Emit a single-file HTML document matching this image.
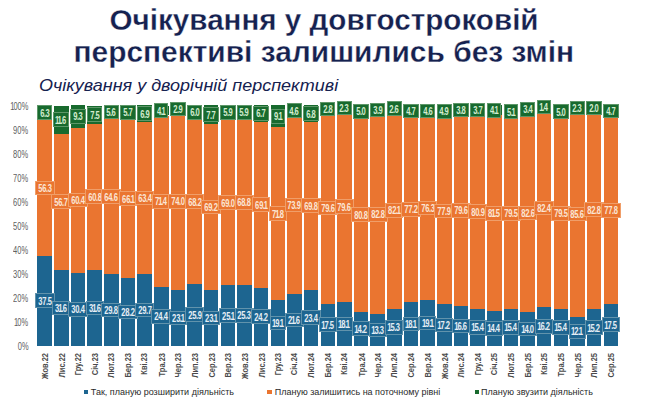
<!DOCTYPE html>
<html><head><meta charset="utf-8"><style>
html,body{margin:0;padding:0;background:#fff;}
body{width:650px;height:416px;position:relative;overflow:hidden;font-family:"Liberation Sans",sans-serif;}
.t{position:absolute;left:0;width:650px;text-align:center;color:#15214f;font-weight:bold;font-size:29px;white-space:nowrap;line-height:32px;}
.t span{display:inline-block;transform-origin:center;-webkit-text-stroke:0.3px #fff;}
.sub{position:absolute;left:39px;top:75.2px;color:#15214f;font-style:italic;font-size:16.5px;transform-origin:0 0;transform:scaleX(1.09);white-space:nowrap;line-height:20px;}
.s{position:absolute;width:14.5px;}
.lab{position:absolute;height:14.6px;box-sizing:border-box;border:1px solid rgba(255,255,240,.3);}
.lab b{position:absolute;left:50%;top:50%;font-weight:bold;font-size:11.5px;line-height:10px;transform:translate(-50%,-50%) scaleX(0.66);white-space:nowrap;}
.lab i{font-style:normal;margin:0 -1.2px;}
.lab u{text-decoration:none;margin:0 -0.8px;}
.lb{background:#1d6590;color:#e6eef5;}
.lo{background:#ea7530;color:#fbe6d6;}
.lg{background:#186a2e;color:#d4ecd0;}
.xl{position:absolute;top:353px;width:0;height:0;}
.xl span{position:absolute;right:-0.2px;top:-5px;transform-origin:100% 50%;transform:rotate(-90deg) scaleX(0.85);font-size:8.8px;font-weight:bold;line-height:10px;color:#4a4a4a;white-space:nowrap;}
.yl{position:absolute;left:0;width:28.2px;height:0;}
.yl span{position:absolute;right:0;top:-5.5px;font-size:11.5px;line-height:12px;color:#606060;transform-origin:100% 50%;transform:scaleX(0.65);}
.yl i{font-style:normal;margin:0 -1.5px;}
.lg2{position:absolute;top:386.2px;font-size:9px;line-height:12px;color:#2a2a2a;white-space:nowrap;}
.sq{position:absolute;top:389.7px;width:4.6px;height:4.6px;}
</style></head><body>
<div class="t" style="top:3.8px;left:-1px"><span id="t1" style="transform:scaleX(1.021)">Очікування у довгостроковій</span></div>
<div class="t" style="top:35.6px;left:-1px"><span id="t2" style="transform:scaleX(1.031)">перспективі залишились без змін</span></div>
<div class="sub" id="sub">Очікування у дворічній перспективі</div>
<div class="yl" style="top:345.80px"><span>0%</span></div><div class="yl" style="top:321.76px"><span><i>1</i>0%</span></div><div class="yl" style="top:297.72px"><span>20%</span></div><div class="yl" style="top:273.68px"><span>30%</span></div><div class="yl" style="top:249.64px"><span>40%</span></div><div class="yl" style="top:225.60px"><span>50%</span></div><div class="yl" style="top:201.56px"><span>60%</span></div><div class="yl" style="top:177.52px"><span>70%</span></div><div class="yl" style="top:153.48px"><span>80%</span></div><div class="yl" style="top:129.44px"><span>90%</span></div><div class="yl" style="top:105.40px"><span><i>1</i>00%</span></div>
<div class="s" style="left:37.45px;top:255.65px;height:90.15px;background:#1d6590"></div><div class="s" style="left:37.45px;top:120.30px;height:135.35px;background:#ea7530"></div><div class="s" style="left:37.45px;top:105.16px;height:15.15px;background:#186a2e"></div><div class="s" style="left:54.10px;top:269.83px;height:75.97px;background:#1d6590"></div><div class="s" style="left:54.10px;top:133.53px;height:136.31px;background:#ea7530"></div><div class="s" style="left:54.10px;top:105.64px;height:27.89px;background:#186a2e"></div><div class="s" style="left:70.75px;top:272.72px;height:73.08px;background:#1d6590"></div><div class="s" style="left:70.75px;top:127.52px;height:145.20px;background:#ea7530"></div><div class="s" style="left:70.75px;top:105.16px;height:22.36px;background:#186a2e"></div><div class="s" style="left:87.40px;top:269.83px;height:75.97px;background:#1d6590"></div><div class="s" style="left:87.40px;top:123.67px;height:146.16px;background:#ea7530"></div><div class="s" style="left:87.40px;top:105.64px;height:18.03px;background:#186a2e"></div><div class="s" style="left:104.05px;top:274.16px;height:71.64px;background:#1d6590"></div><div class="s" style="left:104.05px;top:118.86px;height:155.30px;background:#ea7530"></div><div class="s" style="left:104.05px;top:105.40px;height:13.46px;background:#186a2e"></div><div class="s" style="left:120.70px;top:278.01px;height:67.79px;background:#1d6590"></div><div class="s" style="left:120.70px;top:119.10px;height:158.90px;background:#ea7530"></div><div class="s" style="left:120.70px;top:105.40px;height:13.70px;background:#186a2e"></div><div class="s" style="left:137.35px;top:274.40px;height:71.40px;background:#1d6590"></div><div class="s" style="left:137.35px;top:121.99px;height:152.41px;background:#ea7530"></div><div class="s" style="left:137.35px;top:105.40px;height:16.59px;background:#186a2e"></div><div class="s" style="left:154.00px;top:287.14px;height:58.66px;background:#1d6590"></div><div class="s" style="left:154.00px;top:115.50px;height:171.65px;background:#ea7530"></div><div class="s" style="left:154.00px;top:105.64px;height:9.86px;background:#186a2e"></div><div class="s" style="left:170.65px;top:290.27px;height:55.53px;background:#1d6590"></div><div class="s" style="left:170.65px;top:112.37px;height:177.90px;background:#ea7530"></div><div class="s" style="left:170.65px;top:105.40px;height:6.97px;background:#186a2e"></div><div class="s" style="left:187.30px;top:283.54px;height:62.26px;background:#1d6590"></div><div class="s" style="left:187.30px;top:119.58px;height:163.95px;background:#ea7530"></div><div class="s" style="left:187.30px;top:105.16px;height:14.42px;background:#186a2e"></div><div class="s" style="left:203.95px;top:290.27px;height:55.53px;background:#1d6590"></div><div class="s" style="left:203.95px;top:123.91px;height:166.36px;background:#ea7530"></div><div class="s" style="left:203.95px;top:105.40px;height:18.51px;background:#186a2e"></div><div class="s" style="left:220.60px;top:285.46px;height:60.34px;background:#1d6590"></div><div class="s" style="left:220.60px;top:119.58px;height:165.88px;background:#ea7530"></div><div class="s" style="left:220.60px;top:105.40px;height:14.18px;background:#186a2e"></div><div class="s" style="left:237.25px;top:284.98px;height:60.82px;background:#1d6590"></div><div class="s" style="left:237.25px;top:119.58px;height:165.40px;background:#ea7530"></div><div class="s" style="left:237.25px;top:105.40px;height:14.18px;background:#186a2e"></div><div class="s" style="left:253.90px;top:287.62px;height:58.18px;background:#1d6590"></div><div class="s" style="left:253.90px;top:121.51px;height:166.12px;background:#ea7530"></div><div class="s" style="left:253.90px;top:105.40px;height:16.11px;background:#186a2e"></div><div class="s" style="left:270.55px;top:299.88px;height:45.92px;background:#1d6590"></div><div class="s" style="left:270.55px;top:127.28px;height:172.61px;background:#ea7530"></div><div class="s" style="left:270.55px;top:105.40px;height:21.88px;background:#186a2e"></div><div class="s" style="left:287.20px;top:293.87px;height:51.93px;background:#1d6590"></div><div class="s" style="left:287.20px;top:116.22px;height:177.66px;background:#ea7530"></div><div class="s" style="left:287.20px;top:105.16px;height:11.06px;background:#186a2e"></div><div class="s" style="left:303.85px;top:289.55px;height:56.25px;background:#1d6590"></div><div class="s" style="left:303.85px;top:121.75px;height:167.80px;background:#ea7530"></div><div class="s" style="left:303.85px;top:105.40px;height:16.35px;background:#186a2e"></div><div class="s" style="left:320.50px;top:303.73px;height:42.07px;background:#1d6590"></div><div class="s" style="left:320.50px;top:112.37px;height:191.36px;background:#ea7530"></div><div class="s" style="left:320.50px;top:105.64px;height:6.73px;background:#186a2e"></div><div class="s" style="left:337.15px;top:302.29px;height:43.51px;background:#1d6590"></div><div class="s" style="left:337.15px;top:110.93px;height:191.36px;background:#ea7530"></div><div class="s" style="left:337.15px;top:105.40px;height:5.53px;background:#186a2e"></div><div class="s" style="left:353.80px;top:311.66px;height:34.14px;background:#1d6590"></div><div class="s" style="left:353.80px;top:117.42px;height:194.24px;background:#ea7530"></div><div class="s" style="left:353.80px;top:105.40px;height:12.02px;background:#186a2e"></div><div class="s" style="left:370.45px;top:313.83px;height:31.97px;background:#1d6590"></div><div class="s" style="left:370.45px;top:114.78px;height:199.05px;background:#ea7530"></div><div class="s" style="left:370.45px;top:105.40px;height:9.38px;background:#186a2e"></div><div class="s" style="left:387.10px;top:309.02px;height:36.78px;background:#1d6590"></div><div class="s" style="left:387.10px;top:111.65px;height:197.37px;background:#ea7530"></div><div class="s" style="left:387.10px;top:105.40px;height:6.25px;background:#186a2e"></div><div class="s" style="left:403.75px;top:302.29px;height:43.51px;background:#1d6590"></div><div class="s" style="left:403.75px;top:116.70px;height:185.59px;background:#ea7530"></div><div class="s" style="left:403.75px;top:105.40px;height:11.30px;background:#186a2e"></div><div class="s" style="left:420.40px;top:299.88px;height:45.92px;background:#1d6590"></div><div class="s" style="left:420.40px;top:116.46px;height:183.43px;background:#ea7530"></div><div class="s" style="left:420.40px;top:105.40px;height:11.06px;background:#186a2e"></div><div class="s" style="left:437.05px;top:304.45px;height:41.35px;background:#1d6590"></div><div class="s" style="left:437.05px;top:117.18px;height:187.27px;background:#ea7530"></div><div class="s" style="left:437.05px;top:105.40px;height:11.78px;background:#186a2e"></div><div class="s" style="left:453.70px;top:305.89px;height:39.91px;background:#1d6590"></div><div class="s" style="left:453.70px;top:114.54px;height:191.36px;background:#ea7530"></div><div class="s" style="left:453.70px;top:105.40px;height:9.14px;background:#186a2e"></div><div class="s" style="left:470.35px;top:308.78px;height:37.02px;background:#1d6590"></div><div class="s" style="left:470.35px;top:114.29px;height:194.48px;background:#ea7530"></div><div class="s" style="left:470.35px;top:105.40px;height:8.89px;background:#186a2e"></div><div class="s" style="left:487.00px;top:311.18px;height:34.62px;background:#1d6590"></div><div class="s" style="left:487.00px;top:115.26px;height:195.93px;background:#ea7530"></div><div class="s" style="left:487.00px;top:105.40px;height:9.86px;background:#186a2e"></div><div class="s" style="left:503.65px;top:308.78px;height:37.02px;background:#1d6590"></div><div class="s" style="left:503.65px;top:117.66px;height:191.12px;background:#ea7530"></div><div class="s" style="left:503.65px;top:105.40px;height:12.26px;background:#186a2e"></div><div class="s" style="left:520.30px;top:312.14px;height:33.66px;background:#1d6590"></div><div class="s" style="left:520.30px;top:113.57px;height:198.57px;background:#ea7530"></div><div class="s" style="left:520.30px;top:105.40px;height:8.17px;background:#186a2e"></div><div class="s" style="left:536.95px;top:306.86px;height:38.94px;background:#1d6590"></div><div class="s" style="left:536.95px;top:108.77px;height:198.09px;background:#ea7530"></div><div class="s" style="left:536.95px;top:105.40px;height:3.37px;background:#186a2e"></div><div class="s" style="left:553.60px;top:308.78px;height:37.02px;background:#1d6590"></div><div class="s" style="left:553.60px;top:117.66px;height:191.12px;background:#ea7530"></div><div class="s" style="left:553.60px;top:105.64px;height:12.02px;background:#186a2e"></div><div class="s" style="left:570.25px;top:316.71px;height:29.09px;background:#1d6590"></div><div class="s" style="left:570.25px;top:110.93px;height:205.78px;background:#ea7530"></div><div class="s" style="left:570.25px;top:105.40px;height:5.53px;background:#186a2e"></div><div class="s" style="left:586.90px;top:309.26px;height:36.54px;background:#1d6590"></div><div class="s" style="left:586.90px;top:110.21px;height:199.05px;background:#ea7530"></div><div class="s" style="left:586.90px;top:105.40px;height:4.81px;background:#186a2e"></div><div class="s" style="left:603.55px;top:303.73px;height:42.07px;background:#1d6590"></div><div class="s" style="left:603.55px;top:116.70px;height:187.03px;background:#ea7530"></div><div class="s" style="left:603.55px;top:105.40px;height:11.30px;background:#186a2e"></div><div class="lab lb" style="left:34.84px;top:293.43px;width:19.71px"><b>37<u>.</u>5</b></div><div class="lab lo" style="left:34.84px;top:180.68px;width:19.71px"><b>56<u>.</u>3</b></div><div class="lab lg" style="left:36.95px;top:105.43px;width:15.49px"><b>6<u>.</u>3</b></div><div class="xl" style="left:44.70px"><span>Жов.22</span></div><div class="lab lb" style="left:52.28px;top:300.52px;width:18.13px"><b>3<i>1</i><u>.</u>6</b></div><div class="lab lo" style="left:51.49px;top:194.38px;width:19.71px"><b>56<u>.</u>7</b></div><div class="lab lg" style="left:53.29px;top:112.28px;width:16.13px"><b><i>1</i><i>1</i><u>.</u>6</b></div><div class="xl" style="left:61.35px"><span>Лис.22</span></div><div class="lab lb" style="left:68.14px;top:301.96px;width:19.71px"><b>30<u>.</u>4</b></div><div class="lab lo" style="left:68.14px;top:192.82px;width:19.71px"><b>60<u>.</u>4</b></div><div class="lab lg" style="left:70.25px;top:109.04px;width:15.49px"><b>9<u>.</u>3</b></div><div class="xl" style="left:78.00px"><span>Гру.22</span></div><div class="lab lb" style="left:85.58px;top:300.52px;width:18.13px"><b>3<i>1</i><u>.</u>6</b></div><div class="lab lo" style="left:84.79px;top:189.45px;width:19.71px"><b>60<u>.</u>8</b></div><div class="lab lg" style="left:86.90px;top:107.36px;width:15.49px"><b>7<u>.</u>5</b></div><div class="xl" style="left:94.65px"><span>Січ.23</span></div><div class="lab lb" style="left:101.44px;top:302.68px;width:19.71px"><b>29<u>.</u>8</b></div><div class="lab lo" style="left:101.44px;top:189.21px;width:19.71px"><b>64<u>.</u>6</b></div><div class="lab lg" style="left:103.55px;top:104.83px;width:15.49px"><b>5<u>.</u>6</b></div><div class="xl" style="left:111.30px"><span>Лют.23</span></div><div class="lab lb" style="left:118.09px;top:304.60px;width:19.71px"><b>28<u>.</u>2</b></div><div class="lab lo" style="left:118.88px;top:191.25px;width:18.13px"><b>66<u>.</u><i>1</i></b></div><div class="lab lg" style="left:120.20px;top:104.95px;width:15.49px"><b>5<u>.</u>7</b></div><div class="xl" style="left:127.95px"><span>Бер.23</span></div><div class="lab lb" style="left:134.74px;top:302.80px;width:19.71px"><b>29<u>.</u>7</b></div><div class="lab lo" style="left:134.74px;top:190.89px;width:19.71px"><b>63<u>.</u>4</b></div><div class="lab lg" style="left:136.85px;top:106.39px;width:15.49px"><b>6<u>.</u>9</b></div><div class="xl" style="left:144.60px"><span>Кві.23</span></div><div class="lab lb" style="left:151.39px;top:309.17px;width:19.71px"><b>24<u>.</u>4</b></div><div class="lab lo" style="left:152.18px;top:194.02px;width:18.13px"><b>7<i>1</i><u>.</u>4</b></div><div class="lab lg" style="left:154.29px;top:103.27px;width:13.91px"><b>4<u>.</u><i>1</i></b></div><div class="xl" style="left:161.25px"><span>Тра.23</span></div><div class="lab lb" style="left:168.83px;top:310.73px;width:18.13px"><b>23<u>.</u><i>1</i></b></div><div class="lab lo" style="left:168.04px;top:194.02px;width:19.71px"><b>74<u>.</u>0</b></div><div class="lab lg" style="left:170.15px;top:101.59px;width:15.49px"><b>2<u>.</u>9</b></div><div class="xl" style="left:177.90px"><span>Чер.23</span></div><div class="lab lb" style="left:184.69px;top:307.37px;width:19.71px"><b>25<u>.</u>9</b></div><div class="lab lo" style="left:184.69px;top:194.26px;width:19.71px"><b>68<u>.</u>2</b></div><div class="lab lg" style="left:186.80px;top:105.07px;width:15.49px"><b>6<u>.</u>0</b></div><div class="xl" style="left:194.55px"><span>Лип.23</span></div><div class="lab lb" style="left:202.13px;top:310.73px;width:18.13px"><b>23<u>.</u><i>1</i></b></div><div class="lab lo" style="left:201.34px;top:199.79px;width:19.71px"><b>69<u>.</u>2</b></div><div class="lab lg" style="left:203.45px;top:107.36px;width:15.49px"><b>7<u>.</u>7</b></div><div class="xl" style="left:211.20px"><span>Сер.23</span></div><div class="lab lb" style="left:218.78px;top:308.33px;width:18.13px"><b>25<u>.</u><i>1</i></b></div><div class="lab lo" style="left:217.99px;top:195.22px;width:19.71px"><b>69<u>.</u>0</b></div><div class="lab lg" style="left:220.10px;top:105.19px;width:15.49px"><b>5<u>.</u>9</b></div><div class="xl" style="left:227.85px"><span>Вер.23</span></div><div class="lab lb" style="left:234.64px;top:308.09px;width:19.71px"><b>25<u>.</u>3</b></div><div class="lab lo" style="left:234.64px;top:194.98px;width:19.71px"><b>68<u>.</u>8</b></div><div class="lab lg" style="left:236.75px;top:105.19px;width:15.49px"><b>5<u>.</u>9</b></div><div class="xl" style="left:244.50px"><span>Жов.23</span></div><div class="lab lb" style="left:251.29px;top:309.41px;width:19.71px"><b>24<u>.</u>2</b></div><div class="lab lo" style="left:252.08px;top:197.26px;width:18.13px"><b>69<u>.</u><i>1</i></b></div><div class="lab lg" style="left:253.40px;top:106.15px;width:15.49px"><b>6<u>.</u>7</b></div><div class="xl" style="left:261.15px"><span>Лис.23</span></div><div class="lab lb" style="left:269.53px;top:315.54px;width:16.55px"><b><i>1</i>9<u>.</u><i>1</i></b></div><div class="lab lo" style="left:268.73px;top:206.28px;width:18.13px"><b>7<i>1</i><u>.</u>8</b></div><div class="lab lg" style="left:270.84px;top:109.04px;width:13.91px"><b>9<u>.</u><i>1</i></b></div><div class="xl" style="left:277.80px"><span>Гру.23</span></div><div class="lab lb" style="left:285.38px;top:312.54px;width:18.13px"><b>2<i>1</i><u>.</u>6</b></div><div class="lab lo" style="left:284.59px;top:197.75px;width:19.71px"><b>73<u>.</u>9</b></div><div class="lab lg" style="left:286.70px;top:103.39px;width:15.49px"><b>4<u>.</u>6</b></div><div class="xl" style="left:294.45px"><span>Січ.24</span></div><div class="lab lb" style="left:301.24px;top:310.37px;width:19.71px"><b>23<u>.</u>4</b></div><div class="lab lo" style="left:301.24px;top:198.35px;width:19.71px"><b>69<u>.</u>8</b></div><div class="lab lg" style="left:303.35px;top:106.27px;width:15.49px"><b>6<u>.</u>8</b></div><div class="xl" style="left:311.10px"><span>Лют.24</span></div><div class="lab lb" style="left:318.68px;top:317.46px;width:18.13px"><b><i>1</i>7<u>.</u>5</b></div><div class="lab lo" style="left:317.89px;top:200.75px;width:19.71px"><b>79<u>.</u>6</b></div><div class="lab lg" style="left:320.00px;top:101.71px;width:15.49px"><b>2<u>.</u>8</b></div><div class="xl" style="left:327.75px"><span>Бер.24</span></div><div class="lab lb" style="left:336.13px;top:316.74px;width:16.55px"><b><i>1</i>8<u>.</u><i>1</i></b></div><div class="lab lo" style="left:334.54px;top:199.31px;width:19.71px"><b>79<u>.</u>6</b></div><div class="lab lg" style="left:336.65px;top:100.86px;width:15.49px"><b>2<u>.</u>3</b></div><div class="xl" style="left:344.40px"><span>Кві.24</span></div><div class="lab lb" style="left:351.98px;top:321.43px;width:18.13px"><b><i>1</i>4<u>.</u>2</b></div><div class="lab lo" style="left:351.19px;top:207.24px;width:19.71px"><b>80<u>.</u>8</b></div><div class="lab lg" style="left:353.30px;top:104.11px;width:15.49px"><b>5<u>.</u>0</b></div><div class="xl" style="left:361.05px"><span>Тра.24</span></div><div class="lab lb" style="left:368.63px;top:322.51px;width:18.13px"><b><i>1</i>3<u>.</u>3</b></div><div class="lab lo" style="left:367.84px;top:207.00px;width:19.71px"><b>82<u>.</u>8</b></div><div class="lab lg" style="left:369.95px;top:102.79px;width:15.49px"><b>3<u>.</u>9</b></div><div class="xl" style="left:377.70px"><span>Чер.24</span></div><div class="lab lb" style="left:385.28px;top:320.11px;width:18.13px"><b><i>1</i>5<u>.</u>3</b></div><div class="lab lo" style="left:385.28px;top:203.03px;width:18.13px"><b>82<u>.</u><i>1</i></b></div><div class="lab lg" style="left:386.60px;top:101.23px;width:15.49px"><b>2<u>.</u>6</b></div><div class="xl" style="left:394.35px"><span>Лип.24</span></div><div class="lab lb" style="left:402.73px;top:316.74px;width:16.55px"><b><i>1</i>8<u>.</u><i>1</i></b></div><div class="lab lo" style="left:401.14px;top:202.19px;width:19.71px"><b>77<u>.</u>2</b></div><div class="lab lg" style="left:403.25px;top:103.75px;width:15.49px"><b>4<u>.</u>7</b></div><div class="xl" style="left:411.00px"><span>Сер.24</span></div><div class="lab lb" style="left:419.38px;top:315.54px;width:16.55px"><b><i>1</i>9<u>.</u><i>1</i></b></div><div class="lab lo" style="left:417.79px;top:200.87px;width:19.71px"><b>76<u>.</u>3</b></div><div class="lab lg" style="left:419.90px;top:103.63px;width:15.49px"><b>4<u>.</u>6</b></div><div class="xl" style="left:427.65px"><span>Вер.24</span></div><div class="lab lb" style="left:435.23px;top:317.83px;width:18.13px"><b><i>1</i>7<u>.</u>2</b></div><div class="lab lo" style="left:434.44px;top:203.52px;width:19.71px"><b>77<u>.</u>9</b></div><div class="lab lg" style="left:436.55px;top:103.99px;width:15.49px"><b>4<u>.</u>9</b></div><div class="xl" style="left:444.30px"><span>Жов.24</span></div><div class="lab lb" style="left:451.88px;top:318.55px;width:18.13px"><b><i>1</i>6<u>.</u>6</b></div><div class="lab lo" style="left:451.09px;top:202.91px;width:19.71px"><b>79<u>.</u>6</b></div><div class="lab lg" style="left:453.20px;top:102.67px;width:15.49px"><b>3<u>.</u>8</b></div><div class="xl" style="left:460.95px"><span>Лис.24</span></div><div class="lab lb" style="left:468.53px;top:319.99px;width:18.13px"><b><i>1</i>5<u>.</u>4</b></div><div class="lab lo" style="left:467.74px;top:204.24px;width:19.71px"><b>80<u>.</u>9</b></div><div class="lab lg" style="left:469.85px;top:102.55px;width:15.49px"><b>3<u>.</u>7</b></div><div class="xl" style="left:477.60px"><span>Гру.24</span></div><div class="lab lb" style="left:485.18px;top:321.19px;width:18.13px"><b><i>1</i>4<u>.</u>4</b></div><div class="lab lo" style="left:485.18px;top:205.92px;width:18.13px"><b>8<i>1</i><u>.</u>5</b></div><div class="lab lg" style="left:487.29px;top:103.03px;width:13.91px"><b>4<u>.</u><i>1</i></b></div><div class="xl" style="left:494.25px"><span>Січ.25</span></div><div class="lab lb" style="left:501.83px;top:319.99px;width:18.13px"><b><i>1</i>5<u>.</u>4</b></div><div class="lab lo" style="left:501.04px;top:205.92px;width:19.71px"><b>79<u>.</u>5</b></div><div class="lab lg" style="left:503.94px;top:104.23px;width:13.91px"><b>5<u>.</u><i>1</i></b></div><div class="xl" style="left:510.90px"><span>Лют.25</span></div><div class="lab lb" style="left:518.48px;top:321.67px;width:18.13px"><b><i>1</i>4<u>.</u>0</b></div><div class="lab lo" style="left:517.69px;top:205.56px;width:19.71px"><b>82<u>.</u>6</b></div><div class="lab lg" style="left:519.80px;top:102.19px;width:15.49px"><b>3<u>.</u>4</b></div><div class="xl" style="left:527.55px"><span>Бер.25</span></div><div class="lab lb" style="left:535.13px;top:319.03px;width:18.13px"><b><i>1</i>6<u>.</u>2</b></div><div class="lab lo" style="left:534.34px;top:200.51px;width:19.71px"><b>82<u>.</u>4</b></div><div class="lab lg" style="left:537.24px;top:99.78px;width:13.91px"><b><i>1</i><u>.</u>4</b></div><div class="xl" style="left:544.20px"><span>Кві.25</span></div><div class="lab lb" style="left:551.78px;top:319.99px;width:18.13px"><b><i>1</i>5<u>.</u>4</b></div><div class="lab lo" style="left:550.99px;top:205.92px;width:19.71px"><b>79<u>.</u>5</b></div><div class="lab lg" style="left:553.10px;top:104.35px;width:15.49px"><b>5<u>.</u>0</b></div><div class="xl" style="left:560.85px"><span>Тра.25</span></div><div class="lab lb" style="left:569.23px;top:323.96px;width:16.55px"><b><i>1</i>2<u>.</u><i>1</i></b></div><div class="lab lo" style="left:567.64px;top:206.52px;width:19.71px"><b>85<u>.</u>6</b></div><div class="lab lg" style="left:569.75px;top:100.86px;width:15.49px"><b>2<u>.</u>3</b></div><div class="xl" style="left:577.50px"><span>Чер.25</span></div><div class="lab lb" style="left:585.08px;top:320.23px;width:18.13px"><b><i>1</i>5<u>.</u>2</b></div><div class="lab lo" style="left:584.29px;top:202.43px;width:19.71px"><b>82<u>.</u>8</b></div><div class="lab lg" style="left:586.40px;top:100.50px;width:15.49px"><b>2<u>.</u>0</b></div><div class="xl" style="left:594.15px"><span>Лип.25</span></div><div class="lab lb" style="left:601.73px;top:317.46px;width:18.13px"><b><i>1</i>7<u>.</u>5</b></div><div class="lab lo" style="left:600.94px;top:202.91px;width:19.71px"><b>77<u>.</u>8</b></div><div class="lab lg" style="left:603.05px;top:103.75px;width:15.49px"><b>4<u>.</u>7</b></div><div class="xl" style="left:610.80px"><span>Сер.25</span></div>
<div class="sq" style="left:83.6px;background:#1d6590"></div><div class="lg2" style="left:90.8px">Так, планую розширити діяльність</div>
<div class="sq" style="left:267.3px;background:#ea7530"></div><div class="lg2" style="left:274.7px">Планую залишитись на поточному рівні</div>
<div class="sq" style="left:474.6px;background:#186a2e"></div><div class="lg2" style="left:481.1px">Планую звузити діяльність</div>
</body></html>
